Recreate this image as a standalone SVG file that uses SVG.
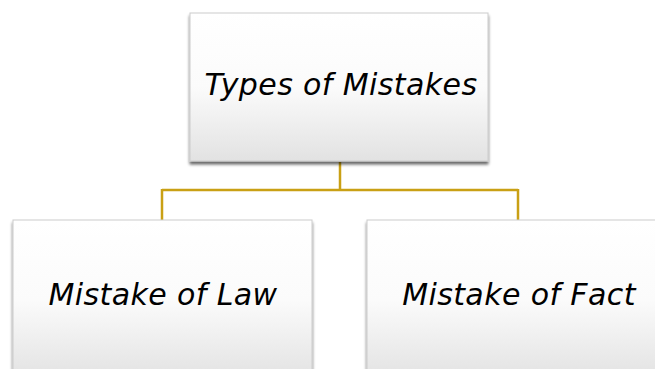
<svg xmlns="http://www.w3.org/2000/svg" width="655" height="369" viewBox="0 0 655 369">
<defs>
<linearGradient id="g" x1="0" y1="0" x2="0" y2="1">
<stop offset="0" stop-color="#ffffff"/>
<stop offset="0.5" stop-color="#fbfbfb"/>
<stop offset="1" stop-color="#e2e2e2"/>
</linearGradient>
<filter id="sh" x="-10%" y="-10%" width="120%" height="120%">
<feGaussianBlur in="SourceAlpha" stdDeviation="1.5"/>
<feOffset dx="0" dy="2.5" result="b"/>
<feComponentTransfer><feFuncA type="linear" slope="0.6"/></feComponentTransfer>
<feMerge><feMergeNode/><feMergeNode in="SourceGraphic"/></feMerge>
</filter>
</defs>
<style>
.box{fill:url(#g);stroke:#cccccc;stroke-width:1;filter:url(#sh)}
.lbl{font-family:"DejaVu Sans",sans-serif;font-style:italic;font-size:30px;letter-spacing:0.4px;fill:#000;text-anchor:middle}
.con{fill:none;stroke:#c9a014;stroke-width:2.5}
</style>
<rect width="655" height="369" fill="#ffffff"/>
<g id="connectors">
<path class="con" d="M340 162 V190 M162 190 H518 M162 189 V221 M518 189 V221"/>
</g>
<g id="top">
<rect class="box" x="190" y="13" width="298" height="148"/>
<text class="lbl" x="341" y="95">Types of Mistakes</text>
</g>
<g id="law">
<rect class="box" x="13" y="220" width="299" height="160"/>
<text class="lbl" x="163" y="305">Mistake of Law</text>
</g>
<g id="fact">
<rect class="box" x="367" y="220" width="299" height="160"/>
<text class="lbl" x="519" y="305">Mistake of Fact</text>
</g>
</svg>
